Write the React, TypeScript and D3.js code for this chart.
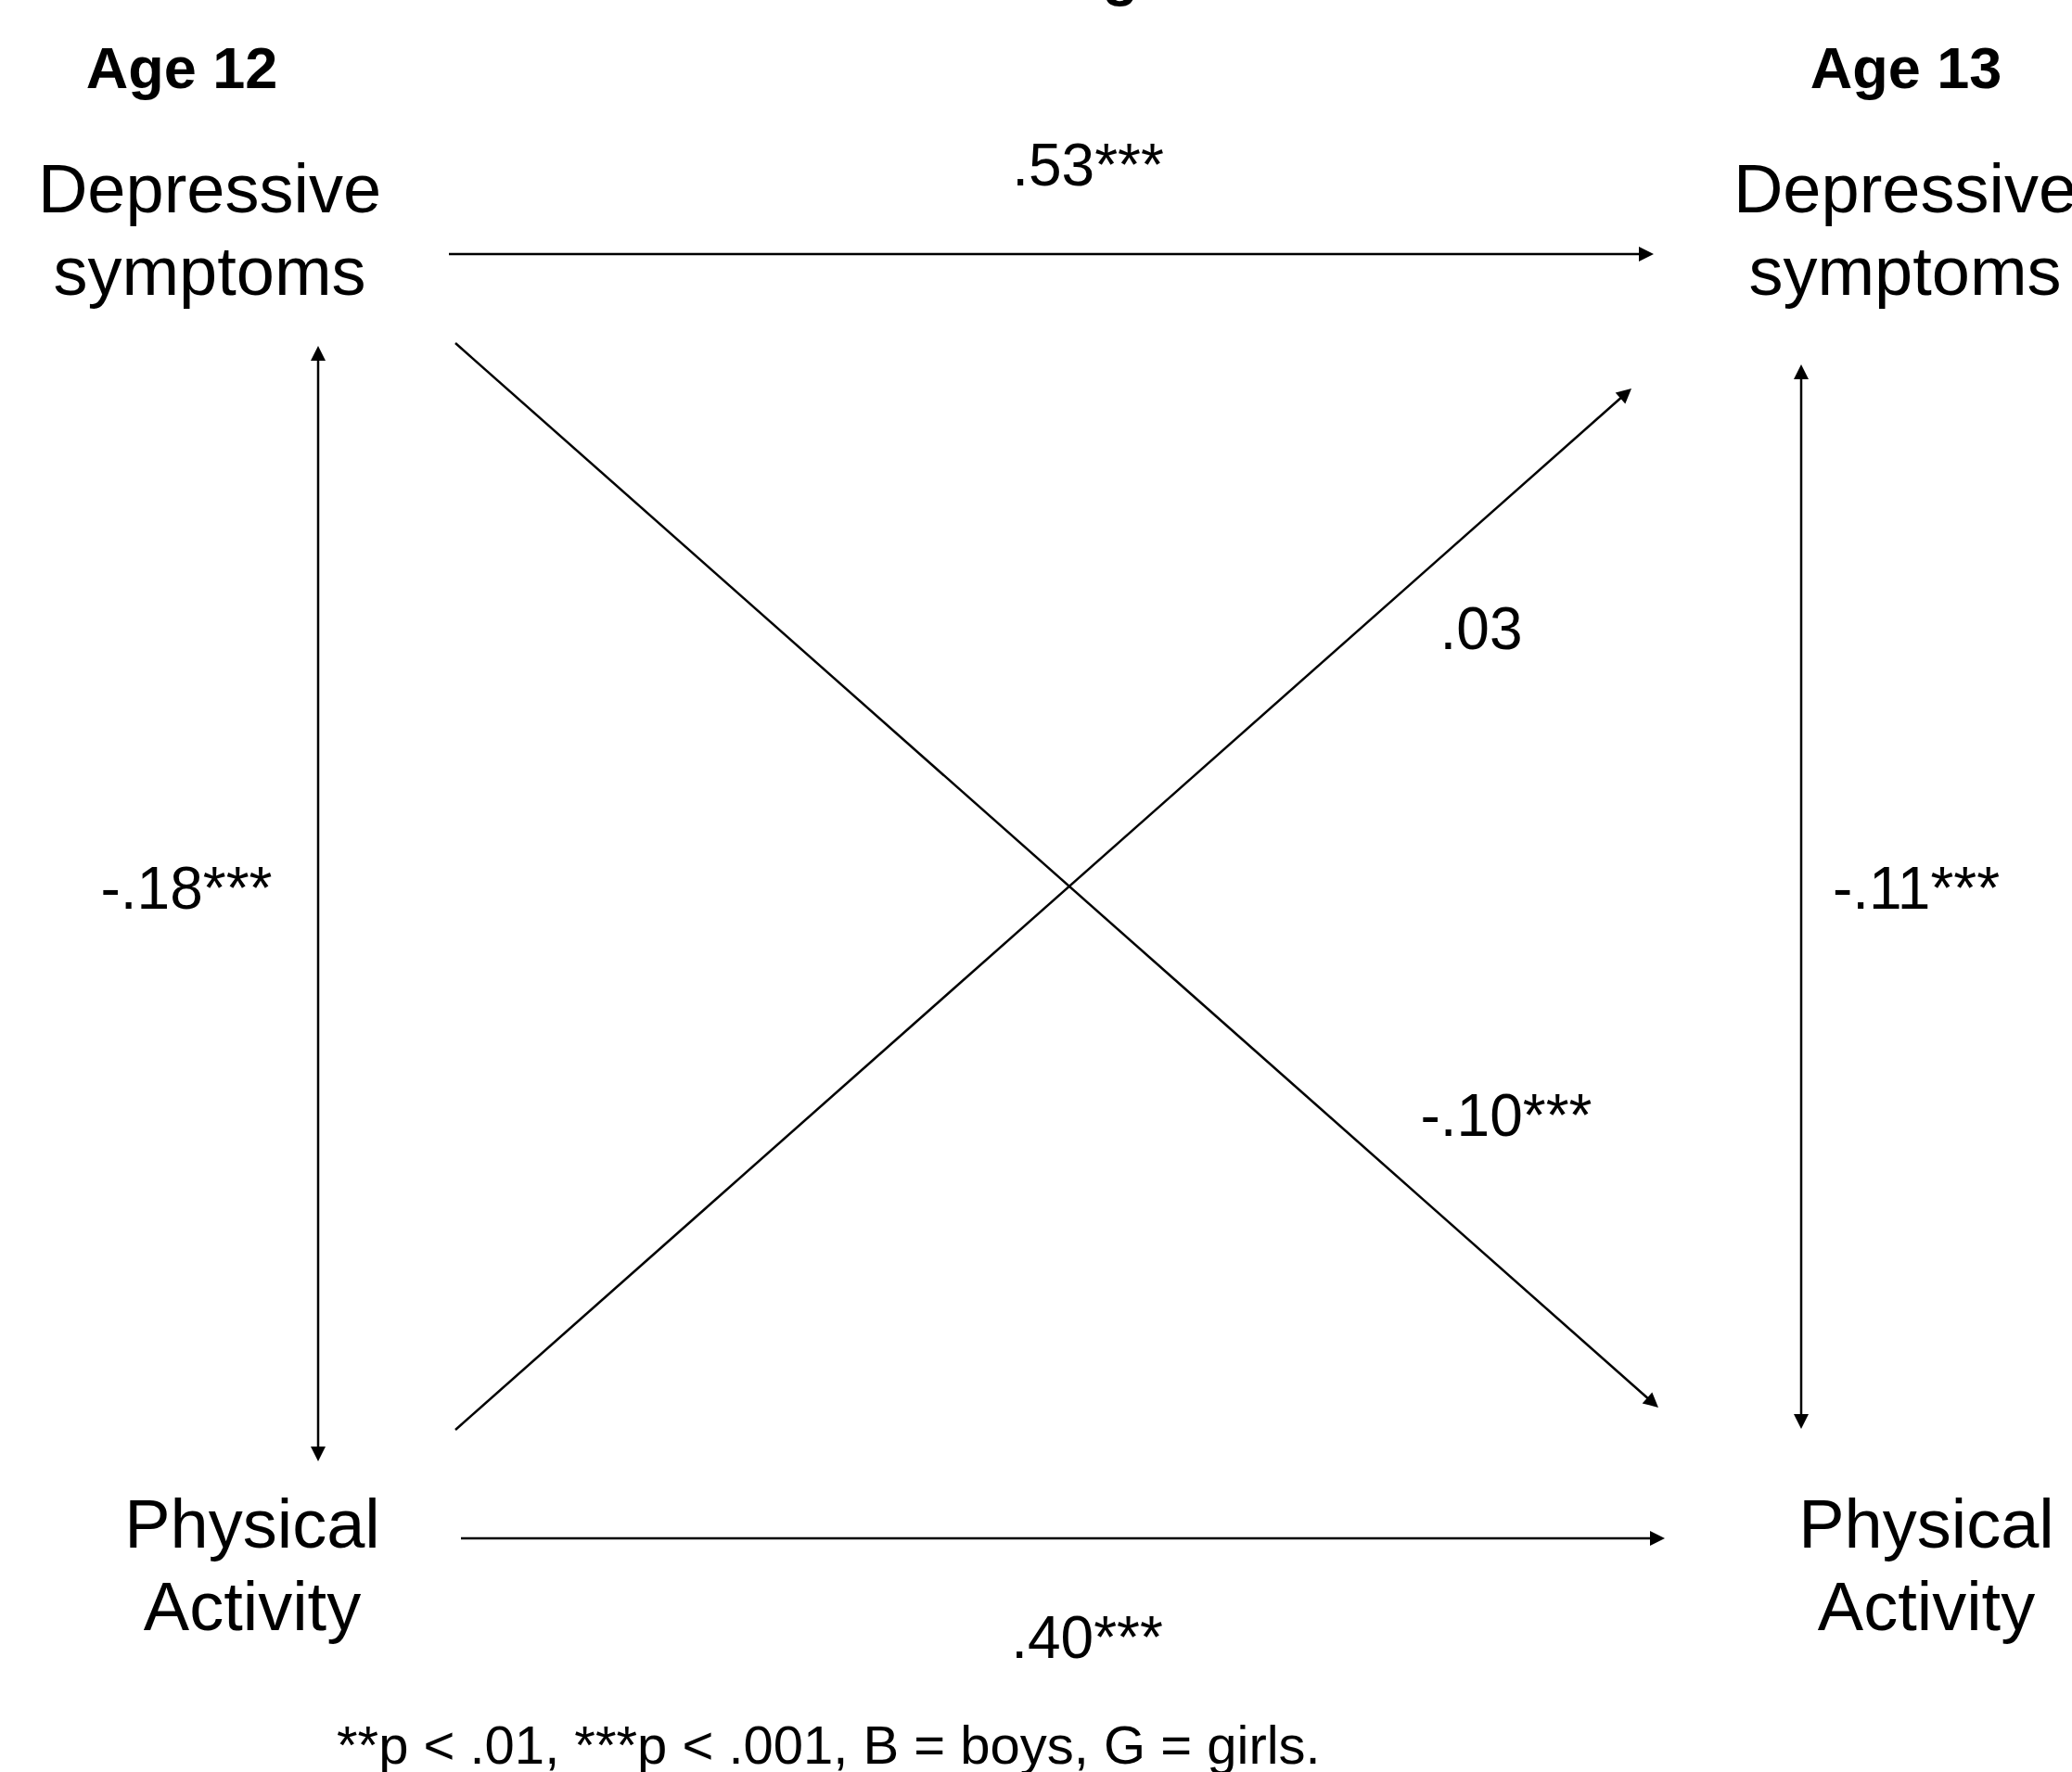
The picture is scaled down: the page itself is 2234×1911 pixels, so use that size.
import React from "react";
import * as d3 from "d3";

// ---- data ----
const waves = ["Age 12", "Age 13"];
const constructs = [["Depressive", "symptoms"], ["Physical", "Activity"]];
// paths: from node -> to node, coefficient label
const pathFrom = ["DS12", "DS12", "PA12", "PA12"];
const pathTo = ["DS13", "PA13", "DS13", "PA13"];
const pathCoef = [".53***", "-.10***", ".03", ".40***"];
// correlations (double headed)
const corrWave = ["Age 12", "Age 13"];
const corrCoef = ["-.18***", "-.11***"];
const footnote = "**p < .01, ***p < .001, B = boys, G = girls.";
const titleFragment = "g";

// ---- layout (positions kept separately from data) ----
const W = 2234;
const H = 1911;
const x = d3.scaleLinear().domain([0, 1]).range([0, W]);
const y = d3.scaleLinear().domain([0, 1]).range([0, H]);

const waveLabelX: Record<string, number> = { "Age 12": 196, "Age 13": 2055 };
const nodeCenter: Record<string, [number, number]> = {
  DS12: [226, 229],
  DS13: [2054, 229],
  PA12: [272, 1669],
  PA13: [2077, 1669],
};
// anchor start/end points of each path
const pathGeom: Record<string, [number, number, number, number]> = {
  "DS12-DS13": [484, 274, 1783, 274],
  "DS12-PA13": [491, 370, 1788, 1518],
  "PA12-DS13": [491, 1542, 1759, 419],
  "PA12-PA13": [497, 1659, 1795, 1659],
};
const coefPos: Record<string, [number, number]> = {
  "DS12-DS13": [1173, 200],
  "DS12-PA13": [1624, 1225],
  "PA12-DS13": [1597, 700],
  "PA12-PA13": [1172, 1788],
};
const corrGeom: Record<string, [number, number, number, number]> = {
  "Age 12": [343, 373, 343, 1576],
  "Age 13": [1942, 393, 1942, 1541],
};
const corrLabelPos: Record<string, [number, number]> = {
  "Age 12": [201, 980],
  "Age 13": [2066, 980],
};

const FONT = "'Liberation Sans', Arial, Helvetica, sans-serif";
const HEAD_L = 16;
const HEAD_W = 8;

function head(x1: number, y1: number, x2: number, y2: number) {
  const ang = Math.atan2(y2 - y1, x2 - x1);
  const bx = x2 - HEAD_L * Math.cos(ang);
  const by = y2 - HEAD_L * Math.sin(ang);
  const px = -Math.sin(ang) * HEAD_W;
  const py = Math.cos(ang) * HEAD_W;
  const p = d3.path();
  p.moveTo(x(x2 / W), y(y2 / H));
  p.lineTo(x((bx + px) / W), y((by + py) / H));
  p.lineTo(x((bx - px) / W), y((by - py) / H));
  p.closePath();
  return p.toString();
}

function shaft(x1: number, y1: number, x2: number, y2: number, startHead: boolean) {
  const ang = Math.atan2(y2 - y1, x2 - x1);
  const sx = startHead ? x1 + (HEAD_L - 2) * Math.cos(ang) : x1;
  const sy = startHead ? y1 + (HEAD_L - 2) * Math.sin(ang) : y1;
  const ex = x2 - (HEAD_L - 2) * Math.cos(ang);
  const ey = y2 - (HEAD_L - 2) * Math.sin(ang);
  const line = d3.line<[number, number]>().x((d) => x(d[0] / W)).y((d) => y(d[1] / H));
  return line([[sx, sy], [ex, ey]]) as string;
}

export default function App() {
  const nodeIds = ["DS12", "DS13", "PA12", "PA13"];
  return (
    <svg
      width={W}
      height={H}
      viewBox={`0 0 ${W} ${H}`}
      style={{ position: "absolute", left: 0, top: 0, background: "#fff" }}
      fontFamily={FONT}
    >
      <rect x={0} y={0} width={W} height={H} fill="#fff" />
      {/* cut-off title fragment */}
      <text x={1208} y={-6} textAnchor="middle" fontSize={63} fontWeight="bold" fill="#000">
        {titleFragment}
      </text>
      {waves.map((w) => (
        <text key={w} x={waveLabelX[w]} y={95} textAnchor="middle" fontSize={63} fontWeight="bold" fill="#000">
          {w}
        </text>
      ))}
      {nodeIds.map((id) => {
        const lines = id.startsWith("DS") ? constructs[0] : constructs[1];
        const [cx, cy] = nodeCenter[id];
        return (
          <text key={id} x={cx} y={cy} textAnchor="middle" fontSize={74} fill="#000">
            <tspan x={cx} y={cy}>{lines[0]}</tspan>
            <tspan x={cx} y={cy + 89}>{lines[1]}</tspan>
          </text>
        );
      })}
      {pathFrom.map((f, i) => {
        const key = `${f}-${pathTo[i]}`;
        const [x1, y1, x2, y2] = pathGeom[key];
        const [lx, ly] = coefPos[key];
        return (
          <g key={key}>
            <path d={shaft(x1, y1, x2, y2, false)} stroke="#000" strokeWidth={2.5} fill="none" />
            <path d={head(x1, y1, x2, y2)} fill="#000" />
            <text x={lx} y={ly} textAnchor="middle" fontSize={64} fill="#000">
              {pathCoef[i]}
            </text>
          </g>
        );
      })}
      {corrWave.map((w, i) => {
        const [x1, y1, x2, y2] = corrGeom[w];
        const [lx, ly] = corrLabelPos[w];
        return (
          <g key={w}>
            <path d={shaft(x1, y1, x2, y2, true)} stroke="#000" strokeWidth={2.5} fill="none" />
            <path d={head(x1, y1, x2, y2)} fill="#000" />
            <path d={head(x2, y2, x1, y1)} fill="#000" />
            <text x={lx} y={ly} textAnchor="middle" fontSize={64} fill="#000">
              {corrCoef[i]}
            </text>
          </g>
        );
      })}
      <text x={363} y={1902} fontSize={58} fill="#000">
        {footnote}
      </text>
    </svg>
  );
}
